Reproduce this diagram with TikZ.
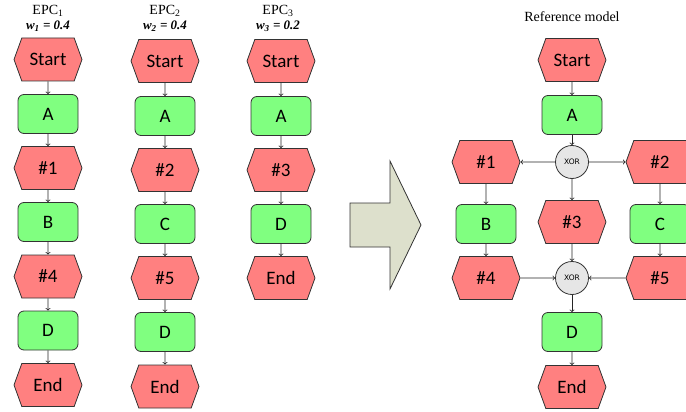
\documentclass[tikz,border=0pt]{standalone}
\usepackage{fontspec}
\setmainfont{Liberation Serif}
\newfontfamily\epcfont{Carlito}
\newfontfamily\xorfont{DejaVu Sans}
\usetikzlibrary{shapes.symbols}
\definecolor{eventred}{RGB}{255,128,128}
\definecolor{funcgreen}{RGB}{128,255,128}
\definecolor{xorgray}{RGB}{230,230,230}
\definecolor{bigarrow}{RGB}{221,224,204}
\tikzset{
  event/.style={signal, signal to=east and west, signal from=nowhere,
    signal pointer angle=140, draw=black!80, fill=eventred,
    minimum width=68pt, minimum height=43pt, inner sep=0pt,
    font=\epcfont\fontsize{19}{19}\selectfont},
  func/.style={rectangle, rounded corners=6pt, draw=black!80, fill=funcgreen,
    minimum width=60pt, minimum height=39pt, inner sep=0pt,
    font=\epcfont\fontsize{19}{19}\selectfont},
  xor/.style={circle, draw=black!80, fill=xorgray, minimum size=33pt,
    inner sep=0pt, font=\xorfont\fontsize{7.5}{7.5}\selectfont},
  head/.style={font=\fontsize{14}{14}\selectfont},
  weight/.style={font=\bfseries\itshape\fontsize{13}{13}\selectfont},
  flow/.style={->, draw=black!85},
}

\begin{document}
\begin{tikzpicture}[x=1pt,y=-1pt,line width=0.8pt]
   \useasboundingbox (0,0) rectangle (686,412);
   % EPC 1
   \node[head] (h1) at (48,11) {EPC\textsubscript{1}};
   \node[weight] (w1) at (48,26) {w\textsubscript{1} = 0.4};
   \node[event] (s1) at (48,59.5) {Start};
   \node[func] (a1) at (48,114) {A};
   \node[event] (e11) at (48,168) {\#1};
   \node[func] (b1) at (48,222) {B};
   \node[event] (e14) at (48,276.5) {\#4};
   \node[func] (d1) at (48,330.5) {D};
   \node[event] (end1) at (48,385) {End};
   \draw[flow] (s1) -- (a1);
   \draw[flow] (a1) -- (e11);
   \draw[flow] (e11) -- (b1);
   \draw[flow] (b1) -- (e14);
   \draw[flow] (e14) -- (d1);
   \draw[flow] (d1) -- (end1);
   % EPC 2
   \node[head] (h2) at (165,11) {EPC\textsubscript{2}};
   \node[weight] (w2) at (165,26) {w\textsubscript{2} = 0.4};
   \node[event] (s2) at (165,61) {Start};
   \node[func] (a2) at (165,116) {A};
   \node[event] (e22) at (165,170) {\#2};
   \node[func] (c2) at (165,224) {C};
   \node[event] (e25) at (165,278) {\#5};
   \node[func] (d2) at (165,332) {D};
   \node[event] (end2) at (165,386.5) {End};
   \draw[flow] (s2) -- (a2);
   \draw[flow] (a2) -- (e22);
   \draw[flow] (e22) -- (c2);
   \draw[flow] (c2) -- (e25);
   \draw[flow] (e25) -- (d2);
   \draw[flow] (d2) -- (end2);
   % EPC 3
   \node[head] (h3) at (278,11) {EPC\textsubscript{3}};
   \node[weight] (w3) at (278,26) {w\textsubscript{3} = 0.2};
   \node[event] (s3) at (281,61) {Start};
   \node[func] (a3) at (281,116) {A};
   \node[event] (e33) at (281,170) {\#3};
   \node[func] (d3) at (281,224) {D};
   \node[event] (end3) at (281,278) {End};
   \draw[flow] (s3) -- (a3);
   \draw[flow] (a3) -- (e33);
   \draw[flow] (e33) -- (d3);
   \draw[flow] (d3) -- (end3);
   % big arrow
   \filldraw[fill=bigarrow, draw=black!80] (350,203) -- (390,203) -- (390,161)
     -- (421,225) -- (390,289) -- (390,247) -- (350,247) -- cycle;
   % reference model
   \node[head] (hr) at (572,17) {Reference model};
   \node[event] (sr) at (572,60) {Start};
   \node[func] (ar) at (572,115) {A};
   \node[xor] (x1) at (572,162) {XOR};
   \node[event] (r1) at (486,162) {\#1};
   \node[event] (r2) at (660,162) {\#2};
   \node[func] (br) at (486,224) {B};
   \node[event] (r3) at (572,222) {\#3};
   \node[func] (cr) at (660,224) {C};
   \node[event] (r4) at (486,278) {\#4};
   \node[xor] (x2) at (572,278) {XOR};
   \node[event] (r5) at (660,278) {\#5};
   \node[func] (dr) at (572,332) {D};
   \node[event] (endr) at (572,387) {End};
   \draw[flow] (sr) -- (ar);
   \draw[flow] (ar) -- (x1);
   \draw[flow] (x1) -- (r1);
   \draw[flow] (x1) -- (r2);
   \draw[flow] (x1) -- (r3);
   \draw[flow] (r1) -- (br);
   \draw[flow] (br) -- (r4);
   \draw[flow] (r2) -- (cr);
   \draw[flow] (cr) -- (r5);
   \draw[flow] (r3) -- (x2);
   \draw[flow] (r4) -- (x2);
   \draw[flow] (r5) -- (x2);
   \draw[flow] (x2) -- (dr);
   \draw[flow] (dr) -- (endr);
\end{tikzpicture}
\end{document}
